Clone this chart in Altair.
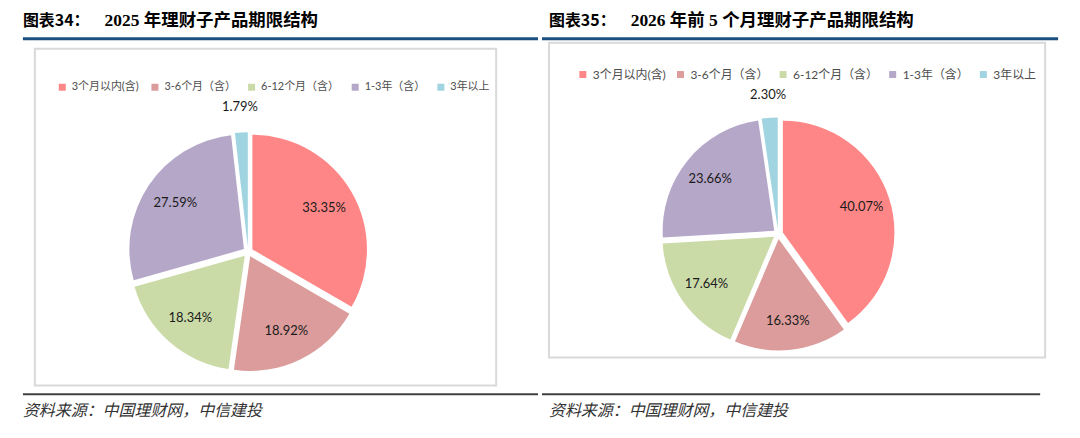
import altair as alt
import pandas as pd

# Maturity buckets of wealth-management subsidiary products
categories = ["3个月以内(含)", "3-6个月（含）", "6-12个月（含）", "1-3年（含）", "3年以上"]
share_2025 = [33.35, 18.92, 18.34, 27.59, 1.79]
share_2026 = [40.07, 16.33, 17.64, 23.66, 2.30]
colors = ["#FF8686", "#DB9C9B", "#CBDBA8", "#B5A7C8", "#A0D4E0"]

PANEL_W, PANEL_H = 540, 438
EXPLODE = 5
LABEL_IN = 88

CJK = "Noto Sans CJK SC"
LABEL_FONT = "Lato, Noto Sans CJK SC"


def single():
    return pd.DataFrame({"k": [0]})


def text_layer(txt, x, y, **style):
    return alt.Chart(single()).mark_text(align="left", baseline="middle", **style).encode(
        x=alt.value(x), y=alt.value(y), text=alt.value(txt)
    )


def rule_layer(x1, x2, y, color, width):
    return alt.Chart(single()).mark_rule(color=color, strokeWidth=width).encode(
        x=alt.value(x1), x2=alt.value(x2), y=alt.value(y)
    )


def panel(fig_no, heading, values, cx, cy, radius, label_out, box, blue_span, foot_span,
          legend_pos, legend_font, col_pad, t0):
    df = pd.DataFrame({"cat": categories, "value": values, "order": list(range(len(categories)))})

    base = (
        alt.Chart(df)
        .transform_window(cum="sum(value)", sort=[alt.SortField("order")], frame=[None, 0])
        .transform_joinaggregate(total="sum(value)")
        .transform_calculate(a0="2*PI*(datum.cum - datum.value)/datum.total")
        .transform_calculate(a1="2*PI*datum.cum/datum.total")
        .transform_calculate(mid="(datum.a0 + datum.a1)/2")
    )

    # exploded slices: each wedge is pushed out along its bisector
    slices = (
        base.transform_calculate(px=f"{cx} + {EXPLODE}*sin(datum.mid)")
        .transform_calculate(py=f"{cy} - {EXPLODE}*cos(datum.mid)")
        .mark_arc(radius=radius)
        .encode(
            theta=alt.Theta("a0:Q", scale=None, stack=False),
            theta2="a1:Q",
            x=alt.X("px:Q", scale=None),
            y=alt.Y("py:Q", scale=None),
            color=alt.Color(
                "cat:N",
                sort=categories,
                scale=alt.Scale(domain=categories, range=colors),
                legend=alt.Legend(
                    orient="none",
                    legendX=legend_pos[0],
                    legendY=legend_pos[1],
                    direction="horizontal",
                    columns=5,
                    title=None,
                    symbolType="square",
                    symbolSize=49,
                    symbolStrokeWidth=0,
                    labelFont=LABEL_FONT,
                    labelFontSize=legend_font,
                    labelColor="#4D4D4D",
                    labelOffset=4,
                    labelLimit=0,
                    columnPadding=col_pad,
                    padding=0,
                ),
            ),
        )
    )

    labels = (
        base.transform_calculate(lr=f"datum.value < 5 ? {label_out} : {LABEL_IN}")
        .transform_calculate(tx=f"{cx} + datum.lr*sin(datum.mid)")
        .transform_calculate(ty=f"{cy} - datum.lr*cos(datum.mid)")
        .transform_calculate(lab="format(datum.value, '.2f') + '%'")
        .mark_text(font=LABEL_FONT, fontSize=13, color="#1A1A1A")
        .encode(x=alt.X("tx:Q", scale=None), y=alt.Y("ty:Q", scale=None), text="lab:N")
    )

    bx1, by1, bx2, by2 = box
    frame = alt.Chart(single()).mark_rect(fillOpacity=0, stroke="#D9D9D9", strokeWidth=2).encode(
        x=alt.value(bx1), x2=alt.value(bx2), y=alt.value(by1), y2=alt.value(by2)
    )

    title_a = text_layer(fig_no, t0, 20, font=CJK, fontSize=16, fontWeight="bold", color="#000000")
    title_b = text_layer(heading, t0 + 82, 20, font="Liberation Serif, Noto Sans CJK SC",
                         fontSize=17.5, fontWeight="bold", color="#000000")
    blue = rule_layer(blue_span[0], blue_span[1], 38, "#1B4F80", 3)
    foot_rule = rule_layer(foot_span[0], foot_span[1], 395, "#404040", 2)
    foot_text = text_layer("资料来源：中国理财网，中信建投", t0, 412, font=CJK, fontSize=16,
                           fontStyle="italic", color="#333333")

    return alt.layer(
        frame, slices, labels, title_a, title_b, blue, foot_rule, foot_text
    ).properties(width=PANEL_W, height=PANEL_H)


left_panel = panel(
    "图表34：", "2025 年理财子产品期限结构", share_2025,
    cx=249, cy=252, radius=115, label_out=146,
    box=(35, 48, 498, 386), blue_span=(23, 540), foot_span=(23, 540),
    legend_pos=(57, 81), legend_font=11, col_pad=10, t0=23,
)
right_panel = panel(
    "图表35：", "2026 年前 5 个月理财子产品期限结构", share_2026,
    cx=237, cy=234, radius=112, label_out=140,
    box=(7, 42, 505, 358), blue_span=(0, 518), foot_span=(0, 500),
    legend_pos=(35, 68), legend_font=12, col_pad=8, t0=7,
)

chart = (
    alt.hconcat(left_panel, right_panel, spacing=0)
    .resolve_scale(color="independent")
    .resolve_legend(color="independent")
    .properties(padding=0, background="white")
    .configure_view(stroke=None)
)

chart.save("out.html", embed_options={"renderer": "svg", "actions": False})
